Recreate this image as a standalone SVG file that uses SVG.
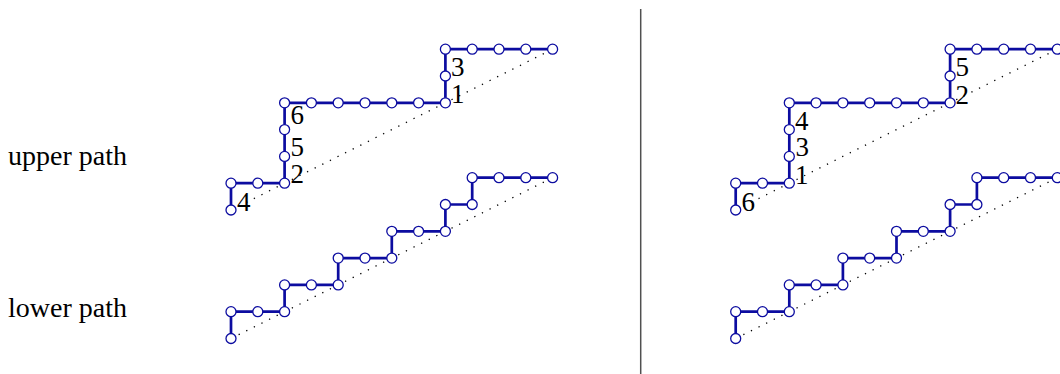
<svg xmlns="http://www.w3.org/2000/svg" width="1060" height="374" viewBox="0 0 1060 374">
<style>
.lbl{font-family:"Liberation Serif","Times New Roman",serif;font-size:28px;fill:#000}
.num{font-family:"Liberation Serif","Times New Roman",serif;font-size:27px;fill:#000}
.edge{fill:none;stroke:#0c0ca0;stroke-width:2.7;stroke-linejoin:miter}
.diag{fill:none;stroke:#000;stroke-width:1.3;stroke-dasharray:1.3 7.2}
.pt circle{fill:#fff;stroke:#0c0ca0;stroke-width:1.3}
</style>
<defs>
<g id="panel">
<g id="connectors">
<line class="diag" x1="231" y1="210" x2="552.6" y2="49.2"/>
<line class="diag" x1="231" y1="338.5" x2="552.6" y2="177.7"/>
<polyline class="edge" points="231,210 231,183.2 284.6,183.2 284.6,102.8 445.4,102.8 445.4,49.2 552.6,49.2"/>
<polyline class="edge" points="231,338.5 231,311.7 284.6,311.7 284.6,284.9 338.2,284.9 338.2,258.1 391.8,258.1 391.8,231.3 445.4,231.3 445.4,204.5 472.2,204.5 472.2,177.7 552.6,177.7"/>
</g>
<g class="pt" id="upper-nodes">
<circle cx="231" cy="210" r="5"/><circle cx="231" cy="183.2" r="5"/><circle cx="257.8" cy="183.2" r="5"/><circle cx="284.6" cy="183.2" r="5"/>
<circle cx="284.6" cy="156.4" r="5"/><circle cx="284.6" cy="129.6" r="5"/><circle cx="284.6" cy="102.8" r="5"/><circle cx="311.4" cy="102.8" r="5"/>
<circle cx="338.2" cy="102.8" r="5"/><circle cx="365" cy="102.8" r="5"/><circle cx="391.8" cy="102.8" r="5"/><circle cx="418.6" cy="102.8" r="5"/>
<circle cx="445.4" cy="102.8" r="5"/><circle cx="445.4" cy="76" r="5"/><circle cx="445.4" cy="49.2" r="5"/><circle cx="472.2" cy="49.2" r="5"/>
<circle cx="499" cy="49.2" r="5"/><circle cx="525.8" cy="49.2" r="5"/><circle cx="552.6" cy="49.2" r="5"/>
</g>
<g class="pt" id="lower-nodes">
<circle cx="231" cy="338.5" r="5"/><circle cx="231" cy="311.7" r="5"/><circle cx="257.8" cy="311.7" r="5"/><circle cx="284.6" cy="311.7" r="5"/>
<circle cx="284.6" cy="284.9" r="5"/><circle cx="311.4" cy="284.9" r="5"/><circle cx="338.2" cy="284.9" r="5"/><circle cx="338.2" cy="258.1" r="5"/>
<circle cx="365" cy="258.1" r="5"/><circle cx="391.8" cy="258.1" r="5"/><circle cx="391.8" cy="231.3" r="5"/><circle cx="418.6" cy="231.3" r="5"/>
<circle cx="445.4" cy="231.3" r="5"/><circle cx="445.4" cy="204.5" r="5"/><circle cx="472.2" cy="204.5" r="5"/><circle cx="472.2" cy="177.7" r="5"/>
<circle cx="499" cy="177.7" r="5"/><circle cx="525.8" cy="177.7" r="5"/><circle cx="552.6" cy="177.7" r="5"/>
</g>
</g>
</defs>
<rect width="1060" height="374" fill="#fff"/>
<g id="row-labels">
<text class="lbl" x="8" y="165">upper path</text>
<text class="lbl" x="8" y="317">lower path</text>
</g>
<g id="separator"><line x1="640.7" y1="9" x2="640.7" y2="374" stroke="#505050" stroke-width="1.5"/></g>
<g id="left-panel">
<use href="#panel"/>
<g id="left-labels">
<text class="num" x="237" y="211">4</text>
<text class="num" x="290.5" y="183">2</text>
<text class="num" x="290.5" y="156">5</text>
<text class="num" x="290.5" y="124">6</text>
<text class="num" x="451" y="103">1</text>
<text class="num" x="451" y="76">3</text>
</g>
</g>
<g id="right-panel">
<use href="#panel" transform="translate(504.7,0)"/>
<g id="right-labels">
<text class="num" x="741.5" y="211">6</text>
<text class="num" x="795" y="184">1</text>
<text class="num" x="795.5" y="156">3</text>
<text class="num" x="795" y="130">4</text>
<text class="num" x="955.5" y="104">2</text>
<text class="num" x="955.5" y="76">5</text>
</g>
</g>
</svg>
